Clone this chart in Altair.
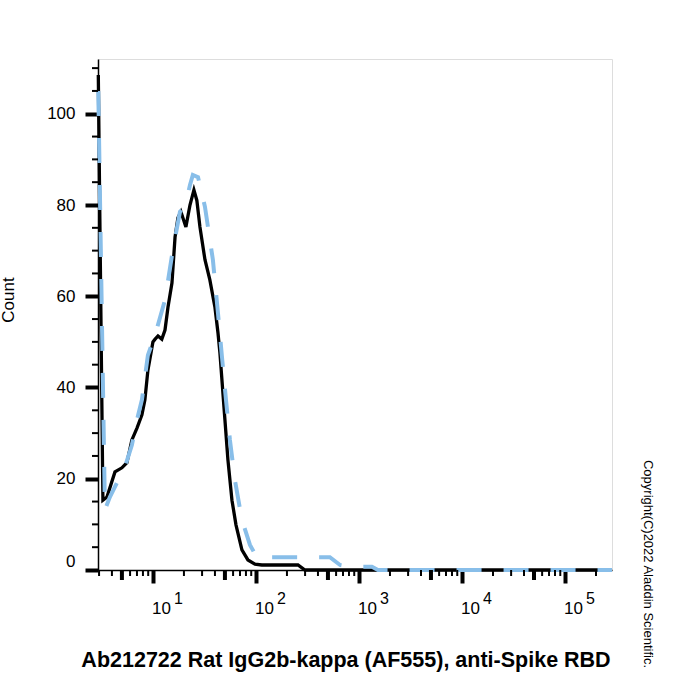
import altair as alt
import pandas as pd

# ---- data (fluorescence intensity, count) ----
sample_x = [2.95, 3.27, 3.58, 4.28, 5.0, 5.59, 6.25, 7.0, 7.82, 8.36, 8.94, 10.0, 10.5,
            11.2, 12.2, 13.1, 14.0, 15.3, 16.4, 17.5, 18.7, 20.9, 22.9, 25.0, 26.7,
            28.6, 32.0, 35.7, 40.0, 42.8, 44.7, 50.0, 53.5, 58.5, 64.0, 73.1, 83.6,
            97.8, 114, 256, 299, 286000]
sample_y = [108.5, 15.3, 16.0, 21.5, 22.4, 23.5, 28.5, 31.1, 34.0, 37.3, 43.8, 50.0, 50.6,
            51.3, 50.6, 52.6, 57.6, 62.9, 73.0, 77.2, 78.5, 75.2, 80.0, 83.3, 81.0,
            75.2, 68.0, 63.6, 57.6, 52.0, 47.6, 32.9, 24.1, 15.3, 9.9, 4.4, 2.2,
            1.3, 1.1, 1.1, 0.0, 0.0]

isotype_x = [2.95, 3.42, 3.82, 5.35, 6.25, 7.0, 7.82, 8.94, 10.5, 13.1, 15.6, 18.3,
             20.5, 22.9, 24.4, 27.4, 32.0, 38.2, 42.8, 46.8, 51.2, 55.9, 62.5, 73.1,
             87.5, 102, 267, 522, 655, 818, 1337, 1528, 286000]
isotype_y = [105.0, 13.2, 16.0, 22.6, 27.4, 32.9, 37.3, 47.1, 51.5, 59.2, 70.1, 78.5,
             79.6, 84.4, 86.6, 86.1, 79.6, 68.0, 56.3, 46.7, 37.3, 28.5, 19.7, 11.0,
             5.5, 2.8, 2.8, 2.8, 1.1, 0.7, 0.7, 0.0, 0.0]

x_major = [10, 100, 1000, 10000, 100000]
x_exponents = ["1", "2", "3", "4", "5"]
x_medium = [5, 50, 500, 5000, 50000]
x_minor = [3, 4, 6, 7, 8, 9,
           20, 30, 40, 60, 70, 80, 90,
           200, 300, 400, 600, 700, 800, 900,
           2000, 3000, 4000, 6000, 7000, 8000, 9000,
           20000, 30000, 40000, 60000, 70000, 80000, 90000,
           200000]
y_major = [0, 20, 40, 60, 80, 100]
y_minor = [5, 10, 15, 25, 30, 35, 45, 50, 55, 65, 70, 75, 85, 90, 95, 105, 110]

x_title = "Ab212722 Rat IgG2b-kappa (AF555), anti-Spike RBD"
y_title = "Count"
copyright_text = "Copyright(C)2022 Aladdin Scientific."

W, H = 514, 511
FONT = "Liberation Sans"
BLUE = "#88bee9"

xs = alt.Scale(type="log", domain=[2.93, 286000], nice=False, zero=False)
ys = alt.Scale(domain=[0, 112], nice=False, zero=False)

sample_df = pd.DataFrame({"x": sample_x, "y": sample_y})
iso_df = pd.DataFrame({"x": isotype_x, "y": isotype_y})

sample_line = alt.Chart(sample_df).mark_line(color="black", strokeWidth=3.3).encode(
    x=alt.X("x:Q", scale=xs, axis=alt.Axis(values=x_major, labels=False, tickSize=13,
                                           tickWidth=4, tickColor="black", domainColor="black",
                                           domainWidth=1.5, grid=False, title=None)),
    y=alt.Y("y:Q", scale=ys, axis=alt.Axis(values=y_major, tickSize=13, tickWidth=4,
                                           tickColor="black", domainColor="black",
                                           domainWidth=1.5, grid=False, title=None,
                                           labelFont=FONT, labelFontSize=17,
                                           labelColor="black", labelPadding=10,
                                           labelFlush=True)),
)

iso_line = alt.Chart(iso_df).mark_line(color=BLUE, strokeWidth=4, strokeDash=[25, 22]).encode(
    x=alt.X("x:Q", scale=xs), y=alt.Y("y:Q", scale=ys)
)

med_ticks = alt.Chart(pd.DataFrame({"v": x_medium})).mark_rule(color="black", strokeWidth=4).encode(
    x=alt.X("v:Q", scale=xs), y=alt.value(H), y2=alt.value(H + 10)
)
min_ticks = alt.Chart(pd.DataFrame({"v": x_minor})).mark_rule(color="black", strokeWidth=2).encode(
    x=alt.X("v:Q", scale=xs), y=alt.value(H), y2=alt.value(H + 6)
)
y_min_ticks = alt.Chart(pd.DataFrame({"v": y_minor})).mark_rule(color="black", strokeWidth=2).encode(
    y=alt.Y("v:Q", scale=ys), x=alt.value(-6), x2=alt.value(0)
)

lab_df = pd.DataFrame({"v": x_major, "base": ["10"] * 5, "exp": x_exponents})
base_labels = alt.Chart(lab_df).mark_text(font=FONT, fontSize=17, align="left",
                                          baseline="middle", dx=-1, color="black").encode(
    x=alt.X("v:Q", scale=xs), y=alt.value(550), text="base:N"
)
exp_labels = alt.Chart(lab_df).mark_text(font=FONT, fontSize=16, align="left",
                                         baseline="middle", dx=21, color="black").encode(
    x=alt.X("v:Q", scale=xs), y=alt.value(540), text="exp:N"
)

xt = alt.Chart(pd.DataFrame({"t": [x_title]})).mark_text(
    font=FONT, fontSize=21.5, fontWeight="bold", align="center", baseline="alphabetic", color="black"
).encode(text="t:N", x=alt.value(248), y=alt.value(608))

yt = alt.Chart(pd.DataFrame({"t": [y_title]})).mark_text(
    font=FONT, fontSize=17, angle=270, align="center", baseline="alphabetic", color="black"
).encode(text="t:N", x=alt.value(-84), y=alt.value(241))

ct = alt.Chart(pd.DataFrame({"t": [copyright_text]})).mark_text(
    font=FONT, fontSize=13, angle=90, align="center", baseline="middle", color="black"
).encode(text="t:N", x=alt.value(550), y=alt.value(505))

chart = alt.layer(
    sample_line, iso_line, med_ticks, min_ticks, y_min_ticks, base_labels, exp_labels, xt, yt, ct
).properties(
    width=W, height=H, autosize="none",
    padding={"left": 98, "top": 59, "right": 88, "bottom": 130},
).configure_view(stroke="black", strokeWidth=1).configure(background="white")

chart.save("out.html", embed_options={"renderer": "svg", "actions": False})
